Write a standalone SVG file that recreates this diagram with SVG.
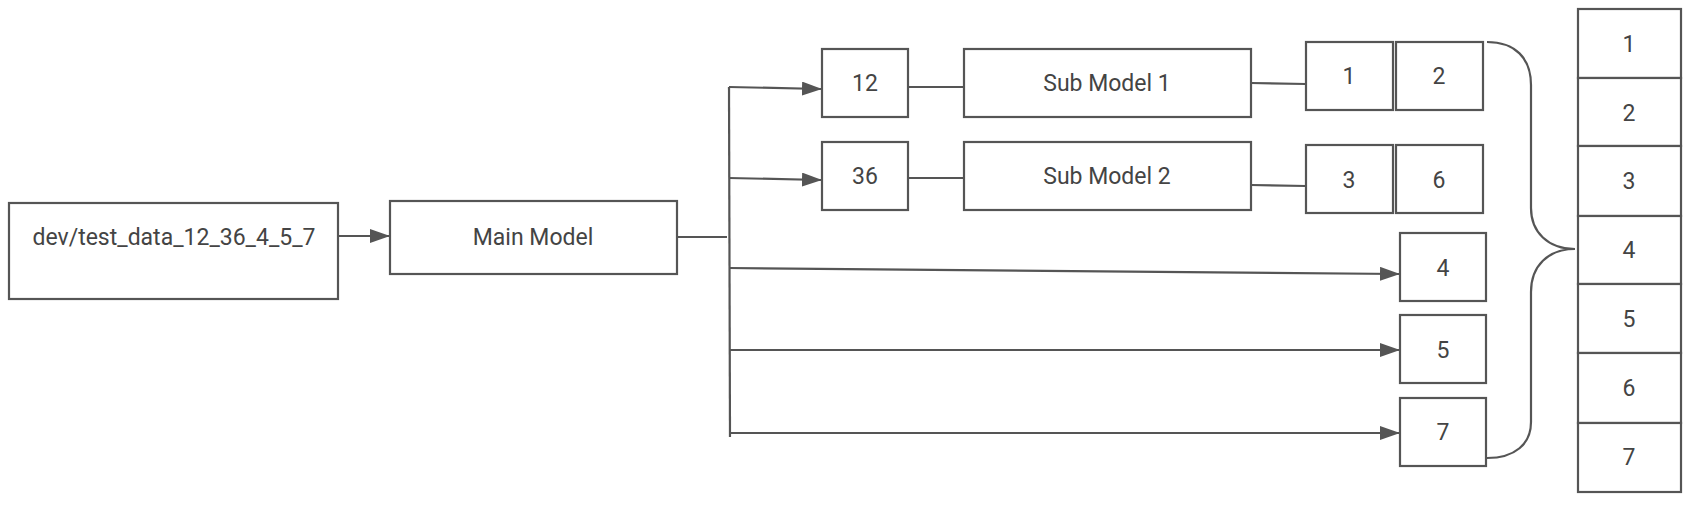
<svg xmlns="http://www.w3.org/2000/svg" width="1706" height="508" viewBox="0 0 1706 508">
<style>
.box{fill:#fff;stroke:#555;stroke-width:2.2}
.ln{fill:none;stroke:#555;stroke-width:2.2}
.t{font-family:Roboto,"Liberation Sans",sans-serif;font-size:23px;fill:#444;text-anchor:middle;dominant-baseline:central}
</style>
<defs>
<marker id="ah" markerUnits="userSpaceOnUse" markerWidth="20" markerHeight="14" refX="19" refY="7" orient="auto">
<path d="M0,0 L20,7 L0,14 Z" fill="#555"/>
</marker>
</defs>
<rect width="1706" height="508" fill="#fff"/>
<g id="connectors">
<line class="ln" x1="338" y1="236" x2="389" y2="236" marker-end="url(#ah)"/>
<line class="ln" x1="677" y1="237" x2="727" y2="237"/>
<line class="ln" x1="729" y1="87" x2="730" y2="437"/>
<line class="ln" x1="729" y1="87" x2="821" y2="89" marker-end="url(#ah)"/>
<line class="ln" x1="729" y1="178" x2="821" y2="180" marker-end="url(#ah)"/>
<line class="ln" x1="729" y1="268" x2="1399" y2="274" marker-end="url(#ah)"/>
<line class="ln" x1="729" y1="350" x2="1399" y2="350" marker-end="url(#ah)"/>
<line class="ln" x1="730" y1="433" x2="1399" y2="433" marker-end="url(#ah)"/>
<line class="ln" x1="908" y1="87" x2="964" y2="87"/>
<line class="ln" x1="908" y1="178" x2="964" y2="178"/>
<line class="ln" x1="1251" y1="83" x2="1306" y2="84"/>
<line class="ln" x1="1251" y1="185" x2="1306" y2="186"/>
<path class="ln" d="M1487,42 C1515,42 1531,58 1531,85 L1531,208 C1531,232 1548,249 1575,249 C1548,249 1531,266 1531,292 L1531,422 C1531,444 1515,458 1487,458"/>
</g>
<g id="input"><rect class="box" x="9" y="203" width="329" height="96"/><text class="t" x="174" y="237">dev/test_data_12_36_4_5_7</text></g>
<g id="main"><rect class="box" x="390" y="201" width="287" height="73"/><text class="t" x="533" y="237">Main Model</text></g>
<g id="n12"><rect class="box" x="822" y="49" width="86" height="68"/><text class="t" x="865" y="83">12</text></g>
<g id="n36"><rect class="box" x="822" y="142" width="86" height="68"/><text class="t" x="865" y="176">36</text></g>
<g id="sub1"><rect class="box" x="964" y="49" width="287" height="68"/><text class="t" x="1107" y="83">Sub Model 1</text></g>
<g id="sub2"><rect class="box" x="964" y="142" width="287" height="68"/><text class="t" x="1107" y="176">Sub Model 2</text></g>
<g id="o1"><rect class="box" x="1306" y="42" width="87" height="68"/><text class="t" x="1349" y="76">1</text></g>
<g id="o2"><rect class="box" x="1396" y="42" width="87" height="68"/><text class="t" x="1439" y="76">2</text></g>
<g id="o3"><rect class="box" x="1306" y="145" width="87" height="68"/><text class="t" x="1349" y="180">3</text></g>
<g id="o6"><rect class="box" x="1396" y="145" width="87" height="68"/><text class="t" x="1439" y="180">6</text></g>
<g id="o4"><rect class="box" x="1400" y="233" width="86" height="68"/><text class="t" x="1443" y="268">4</text></g>
<g id="o5"><rect class="box" x="1400" y="315" width="86" height="68"/><text class="t" x="1443" y="350">5</text></g>
<g id="o7"><rect class="box" x="1400" y="398" width="86" height="68"/><text class="t" x="1443" y="432">7</text></g>
<g id="result">
<rect class="box" x="1578" y="9" width="103" height="69"/><text class="t" x="1629" y="44">1</text>
<rect class="box" x="1578" y="78" width="103" height="68"/><text class="t" x="1629" y="113">2</text>
<rect class="box" x="1578" y="146" width="103" height="70"/><text class="t" x="1629" y="181">3</text>
<rect class="box" x="1578" y="216" width="103" height="68"/><text class="t" x="1629" y="250">4</text>
<rect class="box" x="1578" y="284" width="103" height="69"/><text class="t" x="1629" y="319">5</text>
<rect class="box" x="1578" y="353" width="103" height="70"/><text class="t" x="1629" y="388">6</text>
<rect class="box" x="1578" y="423" width="103" height="69"/><text class="t" x="1629" y="457">7</text>
</g>
</svg>
